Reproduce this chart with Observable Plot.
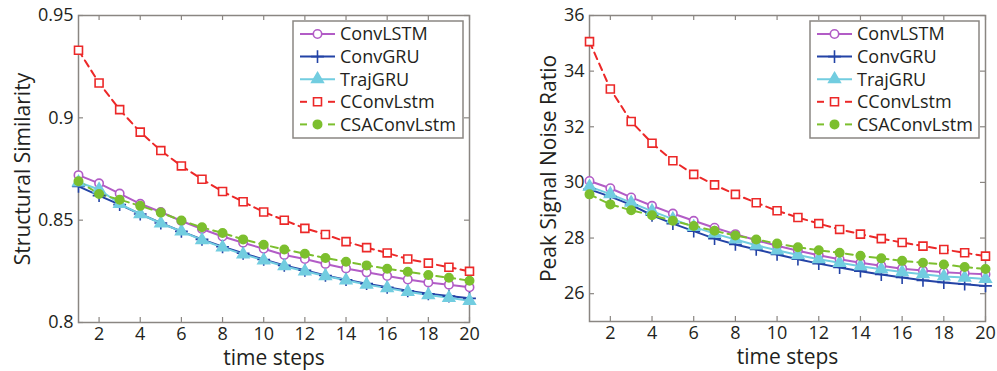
<!DOCTYPE html>
<html><head><meta charset="utf-8">
<script src="https://cdn.jsdelivr.net/npm/d3@7"></script>
<script src="https://cdn.jsdelivr.net/npm/@observablehq/plot@0.6"></script>
<style>
html,body{margin:0;padding:0;background:#fff;}
#wrap{position:relative;width:997px;height:371px;display:flex;font-family:"Open Sans",sans-serif;}
.panel{position:relative;}
.legend{position:absolute;}
</style></head><body><div id="wrap"></div>
<script>
// ---------- data ----------
const steps = [1,2,3,4,5,6,7,8,9,10,11,12,13,14,15,16,17,18,19,20];
const seriesNames = ["ConvLSTM","ConvGRU","TrajGRU","CConvLstm","CSAConvLstm"];
const xTicks = [2,4,6,8,10,12,14,16,18,20];

const ssimTicks = [0.8,0.85,0.9,0.95];
const ssimConvLSTM   = [0.872,0.868,0.863,0.858,0.854,0.8496,0.8457,0.842,0.839,0.836,0.833,0.831,0.8286,0.8264,0.8245,0.8227,0.821,0.8196,0.8185,0.8172];
const ssimConvGRU    = [0.8665,0.862,0.8576,0.853,0.8486,0.8445,0.8406,0.837,0.8338,0.8308,0.8279,0.8255,0.823,0.8209,0.819,0.8172,0.8155,0.814,0.8129,0.8118];
const ssimTrajGRU    = [0.8685,0.865,0.858,0.853,0.8485,0.8445,0.8403,0.8367,0.8333,0.8304,0.8275,0.825,0.8227,0.8206,0.8185,0.8168,0.815,0.8134,0.8121,0.8106];
const ssimCConvLstm  = [0.933,0.917,0.904,0.893,0.884,0.8765,0.870,0.864,0.859,0.854,0.850,0.846,0.843,0.8395,0.8366,0.834,0.831,0.829,0.827,0.825];
const ssimCSAConvLstm= [0.869,0.8628,0.860,0.857,0.8537,0.8498,0.8465,0.8437,0.8406,0.838,0.8357,0.8336,0.8315,0.8297,0.8279,0.8263,0.8248,0.8232,0.8219,0.8204];

const psnrTicks = [26,28,30,32,34,36];
const psnrConvLSTM   = [30.05,29.79,29.46,29.16,28.88,28.62,28.37,28.14,27.92,27.72,27.54,27.38,27.24,27.11,27.0,26.9,26.83,26.77,26.73,26.7];
const psnrConvGRU    = [29.75,29.49,29.19,28.82,28.52,28.25,27.98,27.77,27.59,27.41,27.24,27.08,26.94,26.81,26.69,26.58,26.48,26.4,26.34,26.28];
const psnrTrajGRU    = [29.85,29.58,29.27,28.97,28.68,28.4,28.16,27.95,27.74,27.56,27.39,27.24,27.11,26.99,26.88,26.78,26.7,26.62,26.58,26.53];
const psnrCConvLstm  = [35.06,33.36,32.19,31.41,30.78,30.29,29.91,29.57,29.27,28.98,28.74,28.52,28.31,28.14,27.98,27.84,27.71,27.59,27.47,27.35];
const psnrCSAConvLstm= [29.57,29.21,29.0,28.82,28.62,28.43,28.26,28.09,27.95,27.8,27.67,27.56,27.47,27.36,27.27,27.18,27.11,27.05,26.96,26.89];

// ---------- styles ----------
const frameColor = "#8a8682";
const textColor = "#231f20";
const styles = {
  ConvLSTM:    {color:"#b25cc6", dash:null, symbol:"circle",   fill:"white",   stroke:"#b25cc6", r:4.2},
  ConvGRU:     {color:"#2343a6", dash:null, symbol:"plus",     fill:"none",    stroke:"#2343a6", r:4.2},
  TrajGRU:     {color:"#72cde0", dash:null, symbol:"triangle", fill:"#72cde0", stroke:"#72cde0", r:4.3},
  CConvLstm:   {color:"#ec2828", dash:"7,5", symbol:"square",  fill:"white",   stroke:"#ec2828", r:4.5},
  CSAConvLstm: {color:"#7cbf2e", dash:"7,5", symbol:"circle",  fill:"#7cbf2e", stroke:"#7cbf2e", r:4.2}
};

function tidy(arrs){
  const rows = [];
  seriesNames.forEach((s,i)=>steps.forEach((t,j)=>rows.push({series:s, step:t, value:arrs[i][j]})));
  return rows;
}

function panel({width, height, ml, mr, mt, mb, domain, ticks, data, ylabel, ylabelDx}){
  const innerW = width - ml - mr, innerH = height - mt - mb;
  const marks = [
    Plot.frame({stroke: frameColor, strokeWidth: 1.5}),
    Plot.tickX(xTicks, {x: d=>d, insetTop: innerH-5, stroke: frameColor, strokeWidth:1.2}),
    Plot.tickX(xTicks, {x: d=>d, insetBottom: innerH-5, stroke: frameColor, strokeWidth:1.2}),
    Plot.tickY(ticks, {y: d=>d, insetRight: innerW-5, stroke: frameColor, strokeWidth:1.2}),
    Plot.tickY(ticks, {y: d=>d, insetLeft: innerW-5, stroke: frameColor, strokeWidth:1.2}),
    Plot.axisX({ticks: xTicks, tickSize: 0, tickPadding: 5, label: null, fontSize: 18, fill: textColor}),
    Plot.axisY({ticks: ticks, tickSize: 0, tickPadding: 5, label: null, fontSize: 18, fill: textColor, tickFormat: d=>String(d)}),
    Plot.text([ylabel], {frameAnchor:"left", rotate:-90, dx: ylabelDx, textAnchor:"middle", lineAnchor:"middle", fontSize: 21, fill: textColor}),
    Plot.text(["time steps"], {frameAnchor:"bottom", dy: 36, textAnchor:"middle", lineAnchor:"middle", fontSize: 21, fill: textColor, style:"word-spacing:4px"})
  ];
  for (const s of seriesNames){
    const st = styles[s];
    const rows = data.filter(d=>d.series===s);
    marks.push(Plot.line(rows, {x:"step", y:"value", stroke: st.color, strokeWidth: 2, strokeDasharray: st.dash}));
  }
  for (const s of seriesNames){
    const st = styles[s];
    const rows = data.filter(d=>d.series===s);
    marks.push(Plot.dot(rows, {x:"step", y:"value", symbol: st.symbol, r: st.r, fill: st.fill, stroke: st.stroke, strokeWidth: 1.6}));
  }
  return Plot.plot({
    width, height, marginLeft: ml, marginRight: mr, marginTop: mt, marginBottom: mb,
    style: {fontFamily: '"Open Sans", sans-serif', fontSize: "18px", color: textColor, background:"white"},
    x: {domain: [1,20]},
    y: {domain},
    marks
  });
}

function legend(el, left, top, w, h){
  const svg = d3.select(el).append("svg").attr("class","legend")
    .attr("width", w+2).attr("height", h+2)
    .style("left", (left-1)+"px").style("top", (top-1)+"px");
  svg.append("rect").attr("x",1).attr("y",1).attr("width",w).attr("height",h)
    .attr("fill","white").attr("stroke",frameColor).attr("stroke-width",1.5);
  const symMap = {circle: d3.symbolCircle, plus: d3.symbolPlus, triangle: d3.symbolTriangle, square: d3.symbolSquare};
  seriesNames.forEach((s,i)=>{
    const st = styles[s];
    const y = 14 + i*22.6;
    const g = svg.append("g");
    if (st.dash){
      g.append("line").attr("x1",8).attr("x2",15).attr("y1",y).attr("y2",y).attr("stroke",st.color).attr("stroke-width",2);
      g.append("line").attr("x1",36).attr("x2",43).attr("y1",y).attr("y2",y).attr("stroke",st.color).attr("stroke-width",2);
    } else {
      g.append("line").attr("x1",8).attr("x2",43).attr("y1",y).attr("y2",y).attr("stroke",st.color).attr("stroke-width",2);
    }
    const size = st.r*st.r*Math.PI;
    g.append("path").attr("d", d3.symbol(symMap[st.symbol], size)())
      .attr("transform",`translate(25.5,${y})`)
      .attr("fill", st.fill).attr("stroke", st.stroke).attr("stroke-width",1.6);
    g.append("text").attr("x",48).attr("y",y).attr("dy","0.35em")
      .attr("font-family",'"Open Sans", sans-serif').attr("font-size",18).attr("fill",textColor).text(s);
  });
}

const wrap = document.getElementById("wrap");
const p1 = document.createElement("div"); p1.className="panel"; wrap.appendChild(p1);
const p2 = document.createElement("div"); p2.className="panel"; wrap.appendChild(p2);

p1.appendChild(panel({width:500, height:371, ml:78, mr:31, mt:15, mb:49, domain:[0.8,0.95], ticks:ssimTicks,
  data: tidy([ssimConvLSTM, ssimConvGRU, ssimTrajGRU, ssimCConvLstm, ssimCSAConvLstm]),
  ylabel:"Structural Similarity", ylabelDx:-55}));
p2.appendChild(panel({width:497, height:371, ml:89, mr:12, mt:15, mb:50, domain:[25,36], ticks:psnrTicks,
  data: tidy([psnrConvLSTM, psnrConvGRU, psnrTrajGRU, psnrCConvLstm, psnrCSAConvLstm]),
  ylabel:"Peak Signal Noise Ratio", ylabelDx:-40.5}));

legend(p1, 293, 21, 170, 117);
legend(p2, 310, 21, 169, 117);
</script></body></html>
